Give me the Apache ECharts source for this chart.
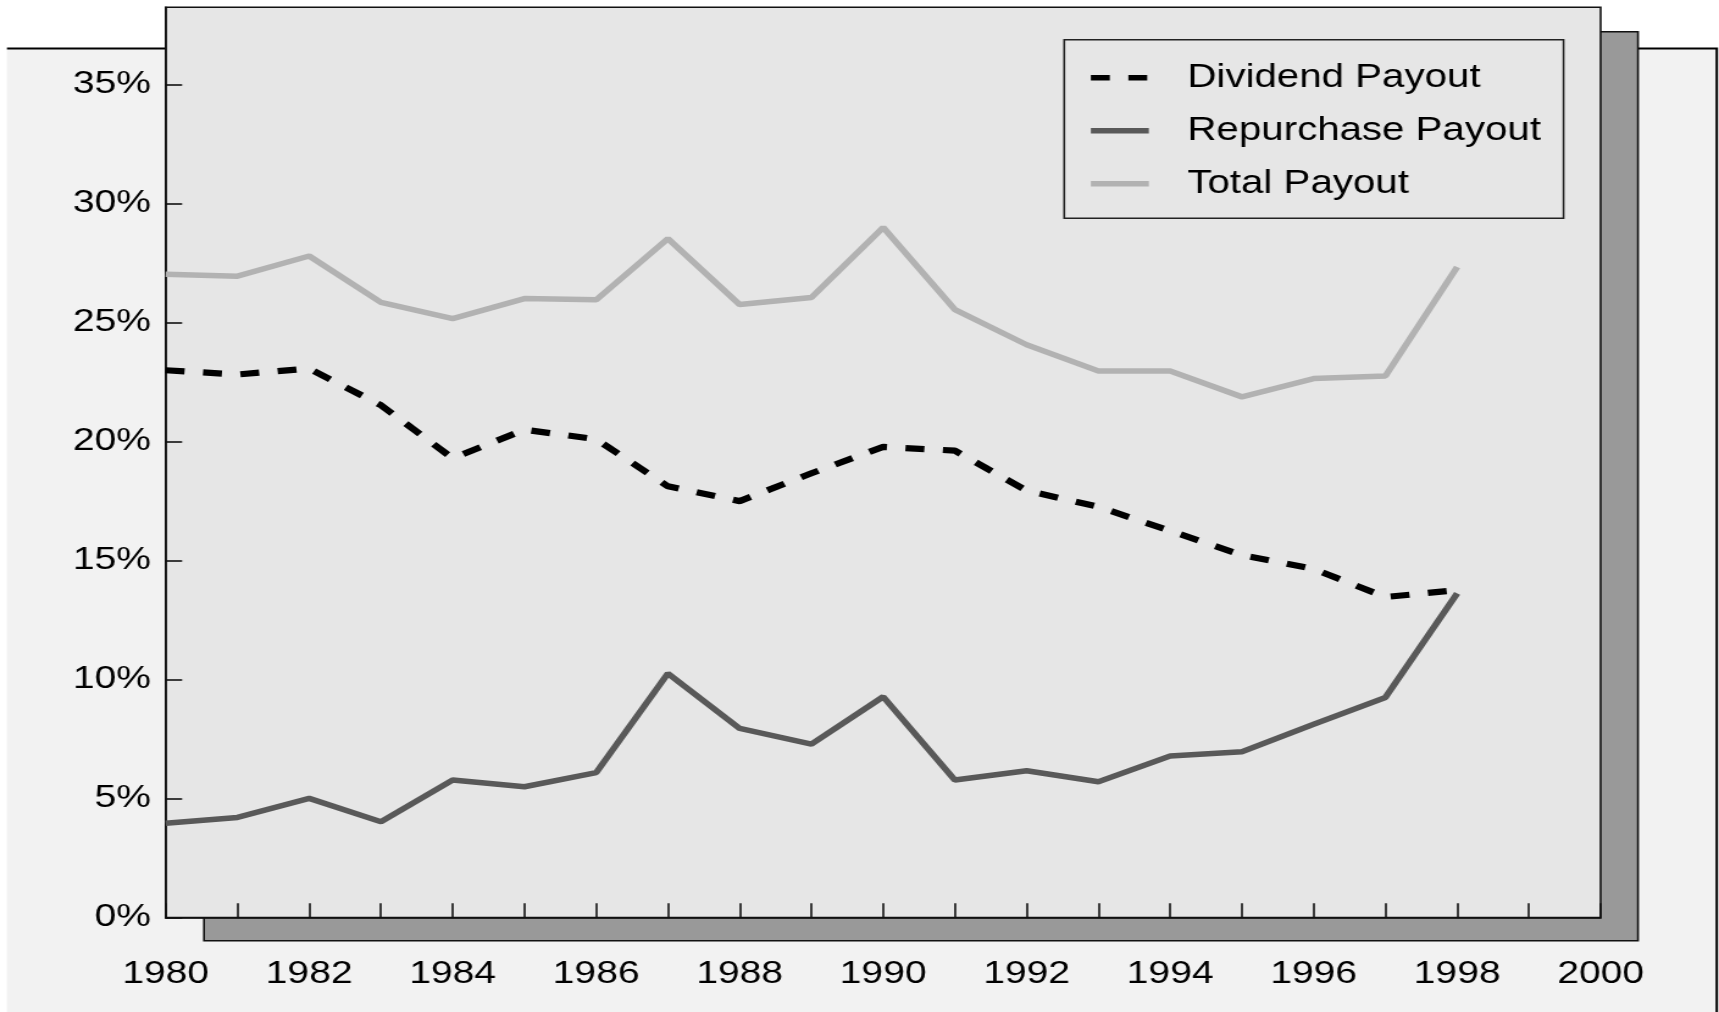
<!DOCTYPE html>
<html>
<head>
<meta charset="utf-8">
<script src="https://cdn.jsdelivr.net/npm/echarts@6/dist/echarts.min.js"></script>
<style>
  html, body { margin: 0; padding: 0; background: #fff; overflow: hidden; }
  #wrap { width: 1719px; height: 1012px; overflow: hidden; }
  #chart { width: 1409px; height: 1012px; transform: scaleX(1.22); transform-origin: 0 0; }
</style>
</head>
<body>
<div id="wrap"><div id="chart"></div></div>
<script>
const years = [1980, 1981, 1982, 1983, 1984, 1985, 1986, 1987, 1988, 1989,
               1990, 1991, 1992, 1993, 1994, 1995, 1996, 1997, 1998];
const dividendPayout = [23.0, 22.82, 23.07, 21.53, 19.3, 20.5, 20.1, 18.12, 17.5, 18.67,
                        19.78, 19.62, 17.94, 17.26, 16.25, 15.23, 14.65, 13.47, 13.76];
const repurchasePayout = [3.96, 4.21, 5.01, 4.03, 5.78, 5.5, 6.09, 10.26, 7.95, 7.29,
                          9.28, 5.78, 6.17, 5.71, 6.79, 6.97, 8.12, 9.25, 13.62];
const totalPayout = [27.03, 26.95, 27.8, 25.85, 25.17, 26.01, 25.96, 28.53, 25.76, 26.06,
                     29.0, 25.55, 24.07, 22.97, 22.97, 21.88, 22.65, 22.76, 27.34];
const seriesNames = ['Dividend Payout', 'Repurchase Payout', 'Total Payout'];

const pairs = vals => years.map((y, i) => [y, vals[i]]);
const FONT = "'Liberation Sans', Arial, Helvetica, sans-serif";

const chart = echarts.init(document.getElementById('chart'), null, { renderer: 'canvas' });
chart.setOption({
  backgroundColor: '#ffffff',
  animation: false,
  graphic: {
    elements: [
      { type: 'rect', z: -20, silent: true,
        shape: { x: 5.7, y: 48.5, width: 1401.5, height: 980 },
        style: { fill: '#f2f2f2' } },
      { type: 'polyline', z: -19, silent: true,
        shape: { points: [[5.7, 48.5], [1407.2, 48.5], [1407.2, 1020]] },
        style: { stroke: '#000', lineWidth: 2, fill: null } },
      { type: 'rect', z: -18, silent: true,
        shape: { x: 167.2, y: 31.7, width: 1175.4, height: 909 },
        style: { fill: '#999999', stroke: '#111', lineWidth: 1.6 } }
    ]
  },
  grid: {
    show: true,
    left: 135.8, right: 97, top: 7.3, bottom: 94.4,
    backgroundColor: '#e6e6e6',
    borderColor: '#111',
    borderWidth: 1.6
  },
  legend: {
    orient: 'vertical',
    left: 872.3, top: 39.8,
    padding: [21.5, 18.5, 18, 19.1],
    backgroundColor: '#e6e6e6',
    borderColor: '#222',
    borderWidth: 1.6,
    itemWidth: 47.5, itemHeight: 14, itemGap: 20,
    itemStyle: { opacity: 0 },
    lineStyle: { width: 5.5 },
    data: seriesNames,
    textStyle: { fontFamily: FONT, fontSize: 33, color: '#000', lineHeight: 32, padding: [0, 0, 0, 26.6] }
  },
  xAxis: {
    type: 'value', min: 1980, max: 2000, interval: 1,
    axisLine: { show: true, lineStyle: { color: '#111', width: 1.6 } },
    axisTick: { show: true, inside: true, length: 14.3, lineStyle: { color: '#111', width: 1.6 } },
    splitLine: { show: false },
    axisLabel: {
      fontFamily: FONT, fontSize: 32, color: '#000', margin: 40.5, lineHeight: 32,
      formatter: v => (v % 2 === 0 ? String(v) : '')
    }
  },
  yAxis: {
    type: 'value', min: 0, max: 38.25, interval: 5,
    axisLine: { show: true, lineStyle: { color: '#111', width: 1.6 } },
    axisTick: { show: true, inside: true, length: 13.5, lineStyle: { color: '#111', width: 1.6 } },
    splitLine: { show: false },
    axisLabel: {
      fontFamily: FONT, fontSize: 32, color: '#000', margin: 12, showMaxLabel: false,
      formatter: v => (Math.abs(v % 5) < 1e-9 ? v + '%' : '')
    }
  },
  series: [
    { name: seriesNames[0], type: 'line', data: pairs(dividendPayout), symbol: 'none', z: 4,
      lineStyle: { color: '#000', width: 6.2, type: [15.5, 15.2] } },
    { name: seriesNames[1], type: 'line', data: pairs(repurchasePayout), symbol: 'none', z: 3,
      lineStyle: { color: '#595959', width: 5.5 } },
    { name: seriesNames[2], type: 'line', data: pairs(totalPayout), symbol: 'none', z: 2,
      lineStyle: { color: '#b2b2b2', width: 5.5 } }
  ]
});
</script>
</body>
</html>
